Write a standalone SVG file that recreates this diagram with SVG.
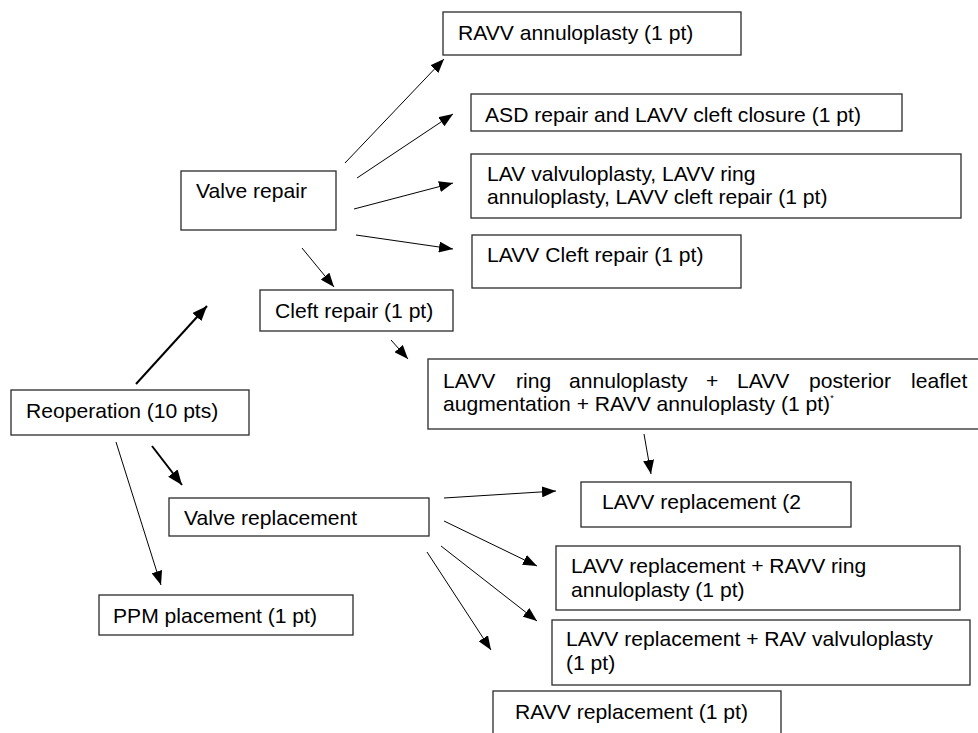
<svg xmlns="http://www.w3.org/2000/svg" width="978" height="733" viewBox="0 0 978 733">
<defs>
<style>
.box{fill:#fff;stroke:#2a2a2a;stroke-width:1.3}
.t{font-family:"Liberation Sans",Arial,sans-serif;font-size:21.1px;fill:#000}
.sup{font-size:9px}
.c{stroke:#000;stroke-width:1;fill:none;marker-end:url(#ah)}
.ck{stroke:#000;stroke-width:2;fill:none;marker-end:url(#ahk)}
</style>
<marker id="ah" markerUnits="userSpaceOnUse" markerWidth="14" markerHeight="11" refX="14" refY="5.5" orient="auto">
<path d="M0,0 L14,5.5 L0,11 z" fill="#000"/>
</marker>
<marker id="ahk" markerUnits="userSpaceOnUse" markerWidth="15" markerHeight="12" refX="15" refY="6" orient="auto">
<path d="M0,0 L15,6 L0,12 z" fill="#000"/>
</marker>
</defs>
<rect width="978" height="733" fill="#fff"/>

<g id="connectors">
<line class="c" x1="345" y1="163" x2="444" y2="59"/>
<line class="c" x1="357" y1="178" x2="453" y2="114"/>
<line class="c" x1="354" y1="209" x2="453" y2="183"/>
<line class="c" x1="356" y1="235" x2="453" y2="249"/>
<line class="c" x1="302" y1="248" x2="334" y2="287"/>
<line class="ck" x1="136" y1="384" x2="207" y2="306"/>
<line class="c" x1="391" y1="340" x2="408" y2="359"/>
<line class="ck" x1="152" y1="446" x2="182" y2="485"/>
<line class="c" x1="116" y1="442" x2="161" y2="585"/>
<line class="c" x1="444" y1="498" x2="556" y2="491"/>
<line class="c" x1="444" y1="521" x2="537" y2="566"/>
<line class="c" x1="441" y1="546" x2="537" y2="621"/>
<line class="c" x1="427" y1="552" x2="491" y2="650"/>
<line class="c" x1="644" y1="434" x2="651" y2="474"/>
</g>

<g id="ravv-annuloplasty">
<rect class="box" x="443" y="12" width="298" height="43"/>
<text class="t" x="458" y="40">RAVV annuloplasty (1 pt)</text>
</g>
<g id="asd-repair">
<rect class="box" x="471" y="94" width="431" height="37"/>
<text class="t" x="485" y="122">ASD repair and LAVV cleft closure (1 pt)</text>
</g>
<g id="lav-valvuloplasty">
<rect class="box" x="471" y="154" width="490" height="64"/>
<text class="t"><tspan x="487" y="181">LAV valvuloplasty, LAVV ring</tspan><tspan x="487" y="204">annuloplasty, LAVV cleft repair (1 pt)</tspan></text>
</g>
<g id="lavv-cleft-repair">
<rect class="box" x="472" y="235" width="269" height="53"/>
<text class="t" x="487" y="262">LAVV Cleft repair (1 pt)</text>
</g>
<g id="valve-repair">
<rect class="box" x="181" y="171" width="155" height="59"/>
<text class="t" x="196" y="198">Valve repair</text>
</g>
<g id="cleft-repair">
<rect class="box" x="260" y="290" width="193" height="41"/>
<text class="t" x="275" y="318">Cleft repair (1 pt)</text>
</g>
<g id="lavv-ring-annuloplasty">
<rect class="box" x="428" y="359" width="560" height="70"/>
<text class="t"><tspan x="443" y="388">LAVV</tspan><tspan x="516" y="388">ring</tspan><tspan x="569" y="388">annuloplasty</tspan><tspan x="706" y="388">+</tspan><tspan x="737" y="388">LAVV</tspan><tspan x="809" y="388">posterior</tspan><tspan x="911" y="388">leaflet</tspan></text>
<text class="t" x="443" y="411">augmentation + RAVV annuloplasty (1 pt)<tspan class="sup" dy="-10">*</tspan></text>
</g>
<g id="reoperation">
<rect class="box" x="11" y="390" width="238" height="45"/>
<text class="t" x="26" y="418">Reoperation (10 pts)</text>
</g>
<g id="valve-replacement">
<rect class="box" x="169" y="498" width="260" height="38"/>
<text class="t" x="184" y="525">Valve replacement</text>
</g>
<g id="ppm-placement">
<rect class="box" x="99" y="595" width="254" height="40"/>
<text class="t" x="113" y="623">PPM placement (1 pt)</text>
</g>
<g id="lavv-replacement">
<rect class="box" x="581" y="482" width="270" height="45"/>
<text class="t" x="602" y="509">LAVV replacement (2</text>
</g>
<g id="lavv-replacement-ravv-ring">
<rect class="box" x="556" y="546" width="404" height="64"/>
<text class="t"><tspan x="571" y="573">LAVV replacement + RAVV ring</tspan><tspan x="571" y="597">annuloplasty (1 pt)</tspan></text>
</g>
<g id="lavv-replacement-rav">
<rect class="box" x="552" y="620" width="418" height="65"/>
<text class="t"><tspan x="566" y="646">LAVV replacement + RAV valvuloplasty</tspan><tspan x="566" y="670">(1 pt)</tspan></text>
</g>
<g id="ravv-replacement">
<rect class="box" x="493" y="691" width="288" height="60"/>
<text class="t" x="515" y="719">RAVV replacement (1 pt)</text>
</g>
</svg>
